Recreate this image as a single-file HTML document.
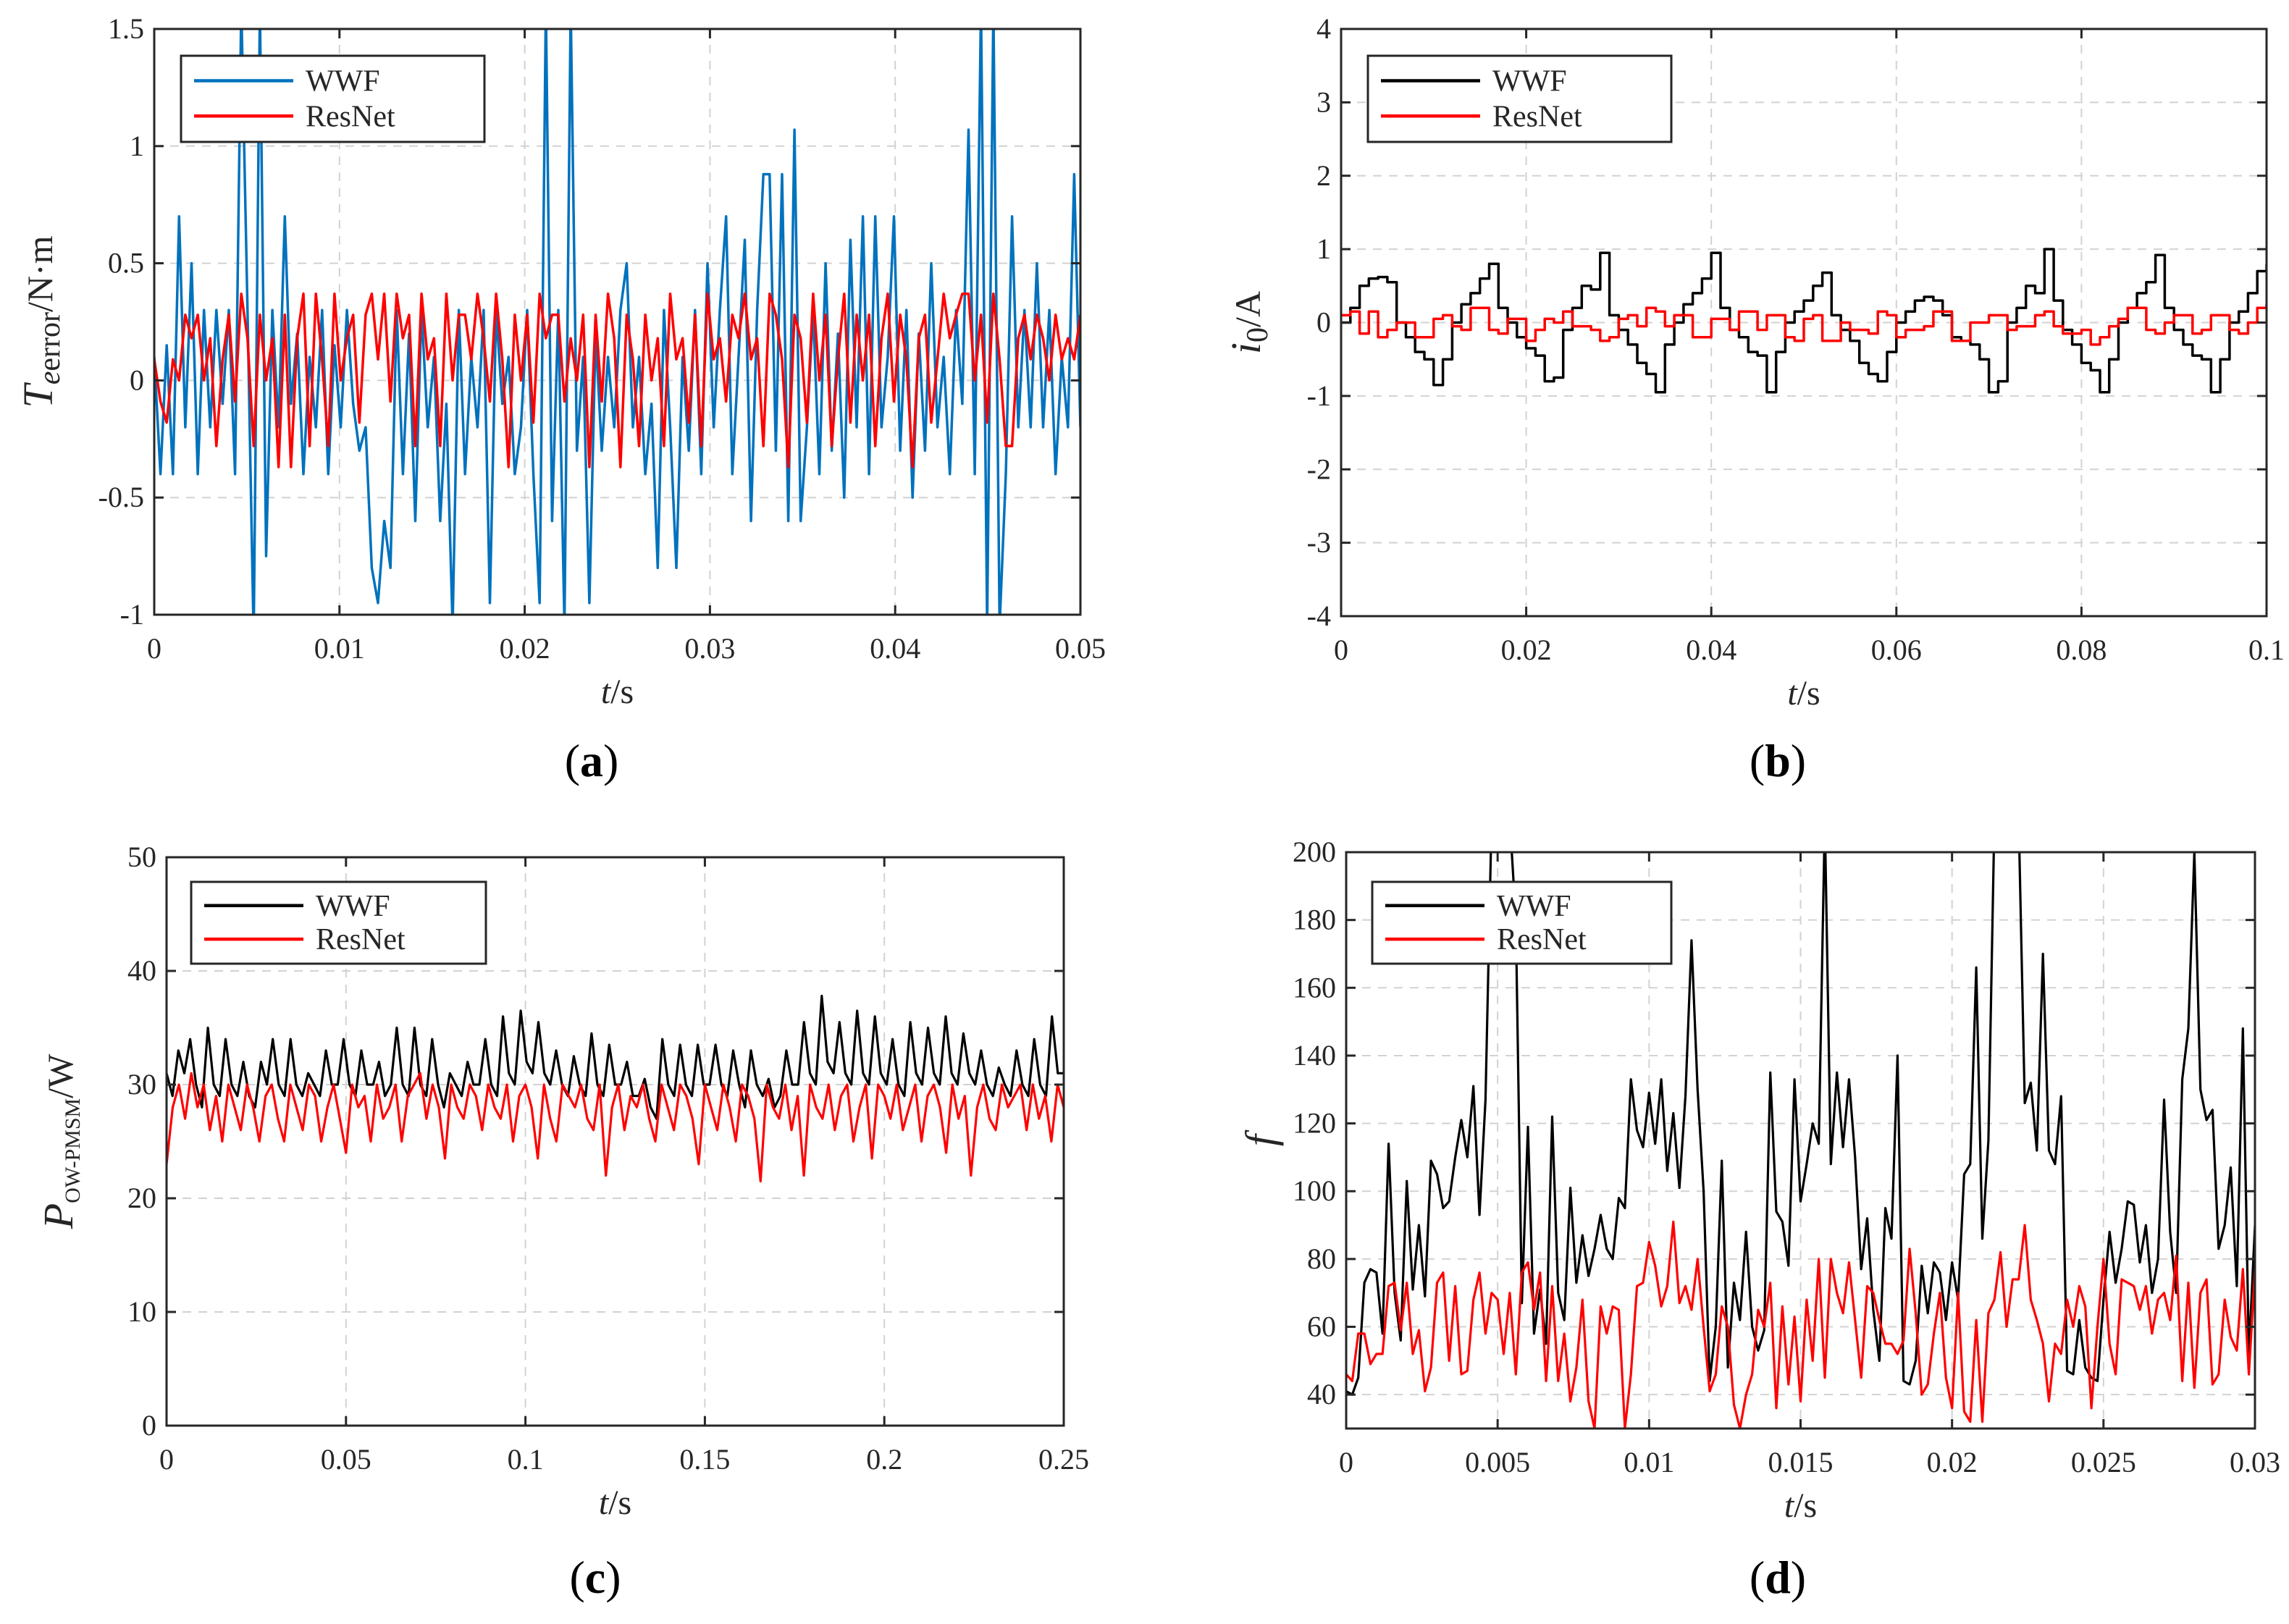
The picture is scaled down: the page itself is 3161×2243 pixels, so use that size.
<!DOCTYPE html>
<html><head><meta charset="utf-8">
<style>
html,body{margin:0;padding:0;background:#fff;}
svg{display:block;font-family:"Liberation Serif",serif;}
</style></head>
<body>
<svg id="fig" width="3161" height="2243" viewBox="0 0 3161 2243" xmlns="http://www.w3.org/2000/svg"></svg>
<script>
// ---------- Panel (a) data ----------
const aXTicks=[0,0.01,0.02,0.03,0.04,0.05];
const aXTickLabels=["0","0.01","0.02","0.03","0.04","0.05"];
const aYTicks=[-1,-0.5,0,0.5,1,1.5];
const aYTickLabels=["-1","-0.5","0","0.5","1","1.5"];
const aWWF=[0.1,-0.4,0.15,-0.4,0.7,-0.2,0.5,-0.4,0.3,-0.2,
0.3,-0.1,0.3,-0.4,1.6,0.3,-1.1,1.6,-0.75,0.3,
-0.2,0.7,-0.1,0.2,-0.4,0.1,-0.2,0.3,-0.4,0.15,
-0.2,0.3,-0.1,-0.3,-0.2,-0.8,-0.95,-0.6,-0.8,0.3,
-0.4,0.2,-0.6,0.3,-0.2,0.1,-0.6,-0.1,-1.05,0.3,
-0.4,0.1,-0.2,0.3,-0.95,0.3,-0.1,0.1,-0.4,-0.2,
0.3,-0.4,-0.95,1.6,-0.6,0.3,-1.05,1.6,-0.3,0.1,
-0.95,0.2,-0.3,0.1,-0.2,0.3,0.5,-0.2,0.1,-0.4,
-0.1,-0.8,0.3,-0.2,-0.8,0.1,-0.3,0.3,-0.4,0.5,
-0.2,0.3,0.7,-0.4,0.1,0.6,-0.6,0.3,0.88,0.88,
-0.3,0.88,-0.6,1.07,-0.6,-0.2,0.3,-0.4,0.5,-0.3,
0.2,-0.5,0.6,-0.2,0.7,-0.4,0.7,-0.2,0.1,0.7,
-0.3,0.3,-0.5,0.2,-0.3,0.5,-0.2,0.1,-0.4,0.3,
-0.1,1.07,-0.4,1.6,-1.05,1.6,-1.05,-0.4,0.7,-0.2,
0.3,-0.2,0.5,-0.2,0.3,-0.4,0.1,-0.2,0.88,-0.2];
const aResNet=[0.09,-0.09,-0.18,0.09,0.0,0.28,0.18,0.28,0.0,0.18,
-0.28,0.09,0.28,-0.09,0.37,0.18,-0.28,0.28,0.0,0.18,
-0.37,0.28,-0.37,0.18,0.37,-0.28,0.37,0.09,-0.28,0.37,
0.0,0.18,0.28,-0.18,0.28,0.37,0.09,0.37,-0.09,0.37,
0.18,0.28,-0.28,0.37,0.09,0.18,-0.28,0.37,0.0,0.28,
0.28,0.09,0.37,0.18,-0.09,0.37,0.09,-0.37,0.28,0.0,
0.28,-0.18,0.37,0.18,0.28,0.28,-0.09,0.18,0.0,0.28,
-0.37,0.28,-0.09,0.37,0.18,-0.37,0.28,0.09,-0.28,0.28,
0.0,0.18,-0.28,0.37,0.09,0.18,-0.18,0.28,-0.28,0.37,
0.09,0.18,-0.09,0.28,0.18,0.37,0.09,0.18,-0.28,0.37,
0.28,0.09,-0.37,0.28,0.18,-0.18,0.37,0.0,0.28,-0.28,
0.09,0.37,-0.18,0.28,0.0,0.28,-0.28,0.18,0.37,-0.09,
0.28,0.09,-0.37,0.18,0.28,-0.18,0.09,0.37,0.18,0.28,
0.37,0.37,0.0,0.28,-0.18,0.37,0.09,-0.28,-0.28,0.18,
0.28,0.09,0.28,0.18,0.0,0.28,0.09,0.18,0.09,0.28];
// ---------- Panel (b) data ----------
const bXTicks=[0,0.02,0.04,0.06,0.08,0.1];
const bXTickLabels=["0","0.02","0.04","0.06","0.08","0.1"];
const bYTicks=[-4,-3,-2,-1,0,1,2,3,4];
const bYTickLabels=["-4","-3","-2","-1","0","1","2","3","4"];
const bWWF=[0.0,0.2,0.5,0.6,0.62,0.55,0.0,-0.2,-0.4,-0.5,-0.85,-0.5,0.0,0.25,0.4,0.6,0.8,0.2,0.0,-0.2,
-0.35,-0.45,-0.8,-0.75,-0.1,0.2,0.5,0.45,0.95,0.1,-0.1,-0.3,-0.55,-0.7,-0.95,-0.3,0.0,0.25,0.4,0.6,
0.95,0.2,-0.1,-0.2,-0.4,-0.45,-0.95,-0.4,0.0,0.15,0.3,0.5,0.68,0.1,-0.1,-0.25,-0.55,-0.7,-0.8,-0.4,
0.0,0.15,0.3,0.35,0.3,0.1,-0.2,-0.25,-0.3,-0.5,-0.95,-0.8,0.0,0.2,0.5,0.4,1.0,0.3,-0.1,-0.3,
-0.55,-0.65,-0.95,-0.5,0.0,0.2,0.4,0.55,0.92,0.2,-0.1,-0.3,-0.45,-0.5,-0.95,-0.5,0.0,0.15,0.4,0.7,0.8];
const bResNet=[0.1,0.15,-0.15,0.15,-0.2,-0.1,0.0,0.0,-0.2,-0.2,0.05,0.1,-0.05,-0.1,0.2,0.2,-0.1,-0.15,0.05,0.05,
-0.25,-0.1,0.05,0.0,0.15,-0.05,-0.05,-0.1,-0.25,-0.2,0.05,0.1,-0.05,0.2,0.15,-0.05,0.1,0.1,-0.2,-0.2,
0.05,0.05,-0.1,0.15,0.15,-0.1,0.1,0.1,-0.2,-0.25,0.05,0.1,-0.25,-0.25,0.0,-0.1,-0.1,-0.15,0.15,0.1,
-0.2,-0.1,-0.1,-0.05,0.15,0.15,-0.25,-0.25,0.0,0.0,0.1,0.1,-0.1,-0.05,-0.05,0.1,0.15,-0.05,-0.15,-0.15,
-0.1,-0.3,-0.2,-0.05,0.05,0.2,0.2,-0.1,-0.15,0.0,0.1,0.1,-0.15,-0.1,0.1,0.1,-0.1,-0.15,0.0,0.2,0.25];
// ---------- Panel (c) data ----------
const cXTicks=[0,0.05,0.1,0.15,0.2,0.25];
const cXTickLabels=["0","0.05","0.1","0.15","0.2","0.25"];
const cYTicks=[0,10,20,30,40,50];
const cYTickLabels=["0","10","20","30","40","50"];
const cWWF=[31,29,33,31,34,30,28,35,30,29,34,30,29,32,29,28,32,30,34,30,29,34,30,29,31,30,29,33,30,30,34,30,29,33,30,30,32,29,30,35,30,29,35,30,29,34,30,28,31,30,29,32,30,30,34,30,29,36,31,30,36.5,32,31,35.5,31,30,33,30,29,32.5,30,29,34.5,30,29,33.5,30,30,32,29,29,30.5,28,27,34,30,29,33.5,30,29,33.5,30,30,33.5,30,29,33,30,28,33,30,29,30.5,28,29,33,30,30,35.5,31,30,37.8,32,31,35.5,31,30,36.5,31,30,36,31,30,34,30,29,35.5,31,30,35,31,30,36,31,30,34.5,31,30,33,30,29,31.5,30,29,33,30,29,34,30,29,36,31,31];
const cResNet=[23,28,30,27,31,28,30,26,29,25,30,28,26,30,28,25,29,30,27,25,30,28,26,30,29,25,28,30,27,24,30,28,29,25,30,27,28,30,25,29,30,31,27,30,28,23.5,30,28,27,30,29,26,30,28,27,30,25,29,30,28,23.5,30,27,25,30,29,28,30,27,26,30,22,28,30,26,29,28,30,27,25,30,28,26,30,29,27,23,30,28,26,30,28,25,30,29,27,21.5,30,28,27,30,26,29,22,30,28,27,30,26,29,30,25,28,30,23.5,30,29,27,30,26,28,30,25,29,30,28,24,30,27,29,22,28,30,27,26,30,28,29,30,26,30,27,29,25,30,28];
// ---------- Panel (d) data ----------
const dXTicks=[0,0.005,0.01,0.015,0.02,0.025,0.03];
const dXTickLabels=["0","0.005","0.01","0.015","0.02","0.025","0.03"];
const dYTicks=[40,60,80,100,120,140,160,180,200];
const dYTickLabels=["40","60","80","100","120","140","160","180","200"];
const dWWF=[41,40,45,73,77,76,58,114,70,56,
103,71,90,69,109,105,95,97,110,121,
110,131,93,127,210,210,210,210,180,67,
119,58,71,55,122,70,62,101,73,87,
75,83,93,83,80,98,95,133,118,113,
129,114,133,106,123,101,128,174,130,100,
44,60,109,48,73,62,88,60,53,59,
135,94,91,78,133,97,108,120,114,210,
108,135,113,133,110,77,92,65,50,95,
86,140,44,43,50,78,64,79,76,62,
79,68,105,108,166,86,115,210,210,210,
210,210,126,132,112,170,112,108,128,47,
46,62,48,45,44,68,88,73,83,97,
96,79,90,70,80,127,88,70,133,148,
200,130,121,124,83,90,107,72,148,52,90];
const dResNet=[46,44,58,58,49,52,52,72,73,59,
73,52,59,41,48,73,76,50,72,46,
47,68,76,58,70,68,52,70,46,76,
79,65,76,44,72,44,58,38,48,68,
38,30,66,58,66,65,30,46,72,73,
85,78,66,72,91,67,72,65,80,60,
41,46,66,60,37,30,40,46,65,60,
73,36,66,43,63,38,68,50,80,45,
80,70,64,79,62,45,72,70,62,55,
55,52,56,83,64,40,43,58,70,45,
36,70,35,32,62,32,64,68,82,60,
74,74,90,68,62,55,38,55,52,68,
60,72,66,36,60,80,55,46,74,73,
72,65,72,58,68,70,62,81,44,73,
42,70,74,43,46,68,57,53,77,46,77];

const NS="http://www.w3.org/2000/svg";
const svg=document.getElementById('fig');
function mk(tag,attrs,parent){const e=document.createElementNS(NS,tag);for(const k in attrs)e.setAttribute(k,attrs[k]);(parent||svg).appendChild(e);return e;}

function panel(cfg){
  const g=mk('g',{});
  
  
  const {L,R,T,B,xmin,xmax,ymin,ymax}=cfg;
  const sx=v=>L+(v-xmin)/(xmax-xmin)*(R-L);
  const sy=v=>B-(v-ymin)/(ymax-ymin)*(B-T);
  // grid
  const grid=mk('g',{stroke:'#d2d2d2','stroke-width':2,'stroke-dasharray':'12,10'},g);
  
  
  cfg.xt.forEach(v=>{if(v>xmin&&v<xmax)mk('line',{x1:sx(v),x2:sx(v),y1:T,y2:B},grid);});
  cfg.yt.forEach(v=>{if(v>ymin&&v<ymax)mk('line',{x1:L,x2:R,y1:sy(v),y2:sy(v)},grid);});
  // clip
  const cid='clip-'+cfg.name;
  const cp=mk('clipPath',{id:cid},g);mk('rect',{x:L,y:T,width:R-L,height:B-T},cp);
  const series=[[cfg.s1,cfg.c1,cfg.step,'wwf-line'],[cfg.s2,cfg.c2,cfg.step,'resnet-line']];
  series.forEach(([arr,col,step,nm])=>{
    const n=arr.length;let d='';
    arr.forEach((v,i)=>{const x=sx(xmin+i*(xmax-xmin)/(n-1)),y=sy(v);
      if(i===0)d+='M'+x.toFixed(1)+','+y.toFixed(1);
      else if(step){d+='H'+x.toFixed(1)+'V'+y.toFixed(1);}
      else d+='L'+x.toFixed(1)+','+y.toFixed(1);});
    const p=mk('path',{d:d,fill:'none',stroke:col,'stroke-width':cfg.lw||3.5,'stroke-linejoin':'round','clip-path':'url(#'+cid+')'},g);
    
    
  });
  // frame
  const fr=mk('rect',{x:L,y:T,width:R-L,height:B-T,fill:'none',stroke:'#262626','stroke-width':3},g);
  
  
  const tk=mk('g',{stroke:'#262626','stroke-width':3},g);
  
  
  cfg.xt.forEach(v=>{const x=sx(v);mk('line',{x1:x,x2:x,y1:B,y2:B-13},tk);mk('line',{x1:x,x2:x,y1:T,y2:T+13},tk);});
  cfg.yt.forEach(v=>{const y=sy(v);mk('line',{x1:L,x2:L+13,y1:y,y2:y},tk);mk('line',{x1:R,x2:R-13,y1:y,y2:y},tk);});
  cfg.xt.forEach((v,i)=>{const t=mk('text',{x:sx(v),y:B+60,'text-anchor':'middle','font-size':40,fill:'#262626'},g);t.textContent=cfg.xl[i];
    
    });
  cfg.yt.forEach((v,i)=>{const t=mk('text',{x:L-14,y:sy(v)+13,'text-anchor':'end','font-size':40,fill:'#262626'},g);t.textContent=cfg.yl[i];
    
    });
  // x title
  const xt=mk('text',{x:(L+R)/2,y:B+122,'text-anchor':'middle','font-size':48,fill:'#262626'},g);
  xt.innerHTML='<tspan font-style="italic">t</tspan>/s';
  
  
  // y title
  const yt=mk('text',{transform:'translate('+cfg.ytx+','+((T+B)/2)+') rotate(-90)','text-anchor':'middle','font-size':50,fill:'#262626'},g);
  yt.innerHTML=cfg.ytitle;
  
  
  // legend
  const lg=mk('g',{},g);
  
  
  const [lx,ly,lw,lh]=cfg.leg;
  mk('rect',{x:lx,y:ly,width:lw,height:lh,fill:'#fff',stroke:'#262626','stroke-width':3},lg);
  [[cfg.c1,'WWF',0.29],[cfg.c2,'ResNet',0.70]].forEach(([c,txt,f])=>{
    const y=ly+lh*f;
    const e=mk('g',{},lg);
    
    
    mk('line',{x1:lx+18,x2:lx+155,y1:y,y2:y,stroke:c,'stroke-width':4.5},e);
    const t=mk('text',{x:lx+172,y:y+14,'font-size':42,fill:'#262626'},e);t.textContent=txt;
  });
  // panel label
  const pl=mk('text',{x:cfg.plx,y:cfg.ply,'text-anchor':'middle','font-size':64,fill:'#000'},g);
  pl.innerHTML='(<tspan font-weight="bold">'+cfg.letter+'</tspan>)';
  
  
}

panel({name:'panel-a',L:213,R:1492,T:40,B:849,xmin:0,xmax:0.05,ymin:-1,ymax:1.5,xt:aXTicks,xl:aXTickLabels,yt:aYTicks,yl:aYTickLabels,
  s1:aWWF,s2:aResNet,c1:'#0072BD',c2:'#ff0000',step:false,lw:3.5,
  ytitle:'<tspan font-style="italic" font-size="58">T</tspan><tspan font-style="italic" dy="10" font-size="42">e</tspan><tspan font-size="42">error</tspan><tspan dy="-10">/N·m</tspan>',
  ytx:72,leg:[250,77,419,119],plx:817,ply:1072,letter:'a'});
panel({name:'panel-b',L:1852,R:3130,T:40,B:851,xmin:0,xmax:0.1,ymin:-4,ymax:4,xt:bXTicks,xl:bXTickLabels,yt:bYTicks,yl:bYTickLabels,
  s1:bWWF,s2:bResNet,c1:'#000000',c2:'#ff0000',step:true,lw:3.5,
  ytitle:'<tspan font-style="italic" font-size="58">i</tspan><tspan dy="10" font-size="42">0</tspan><tspan dy="-10">/A</tspan>',
  ytx:1740,leg:[1889,77,419,119],plx:2455,ply:1072,letter:'b'});
panel({name:'panel-c',L:230,R:1469,T:1184,B:1969,xmin:0,xmax:0.25,ymin:0,ymax:50,xt:cXTicks,xl:cXTickLabels,yt:cYTicks,yl:cYTickLabels,
  s1:cWWF,s2:cResNet,c1:'#000000',c2:'#ff0000',step:false,lw:3.2,
  ytitle:'<tspan font-style="italic" font-size="58">P</tspan><tspan dy="10" font-size="30">OW-PMSM</tspan><tspan dy="-10">/W</tspan>',
  ytx:100,leg:[264,1218,407,113],plx:822,ply:2200,letter:'c'});
panel({name:'panel-d',L:1859,R:3114,T:1177,B:1973,xmin:0,xmax:0.03,ymin:30,ymax:200,xt:dXTicks,xl:dXTickLabels,yt:dYTicks,yl:dYTickLabels,
  s1:dWWF,s2:dResNet,c1:'#000000',c2:'#ff0000',step:false,lw:3.2,
  ytitle:'<tspan font-style="italic" font-size="58">f</tspan>',
  ytx:1760,leg:[1895,1218,413,113],plx:2455,ply:2200,letter:'d'});
</script>
</body></html>
